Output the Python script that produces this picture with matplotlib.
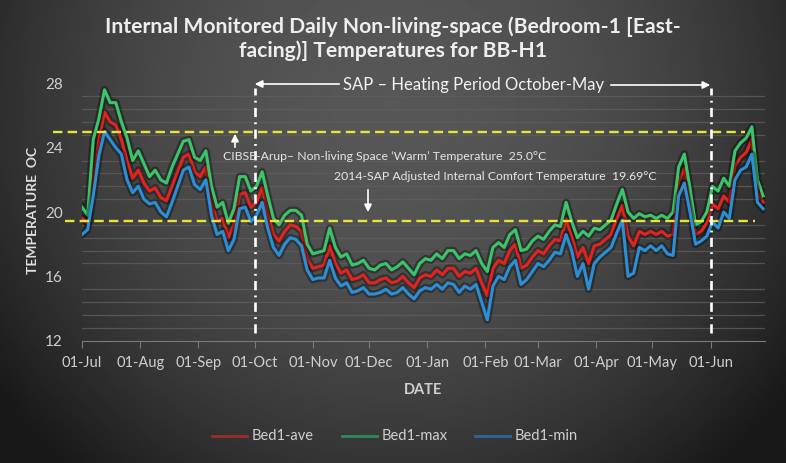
"""Bedroom-1 daily temperatures for BB-H1, dark Excel-style chart."""

import matplotlib
matplotlib.use("Agg")
import matplotlib.pyplot as plt
import matplotlib.dates as mdates
import matplotlib.patheffects as pe
import numpy as np
import pandas as pd

W, H = 786, 463
FONT = ["Lato", "DejaVu Sans"]
plt.rcParams["font.family"] = FONT

# Sample days counted from 01-Jul (every 3rd day).
START = pd.Timestamp("2014-07-01")
day_offsets = list(range(0, 364, 3))

bed1_max = [
    20.3, 19.8, 24.5, 25.8, 27.6, 26.8, 26.8, 25.6, 24.6, 23.2,
    23.8, 23.0, 22.2, 22.6, 22.0, 21.8, 22.8, 23.6, 24.4, 24.5,
    23.4, 23.2, 23.8, 21.6, 20.3, 20.6, 19.3, 20.2, 22.2, 22.2,
    21.3, 21.6, 22.5, 21.0, 19.6, 19.2, 19.8, 20.1, 20.1, 19.8,
    18.0, 17.4, 17.5, 17.6, 19.0, 17.8, 17.2, 17.4, 16.7, 16.8,
    17.0, 16.5, 16.4, 16.7, 16.8, 16.4, 16.6, 16.9, 16.5, 16.1,
    16.8, 17.1, 17.0, 17.4, 17.1, 17.6, 17.6, 17.1, 17.4, 17.3,
    17.6, 16.8, 16.3, 17.8, 18.1, 17.8, 18.6, 18.9, 17.6, 17.7,
    18.2, 18.5, 18.3, 18.8, 19.2, 19.1, 20.6, 19.4, 18.4, 18.8,
    18.5, 19.0, 18.9, 19.2, 19.5, 20.5, 21.4, 20.0, 19.6, 19.9,
    19.7, 19.8, 19.6, 19.8, 19.6, 20.0, 22.8, 23.6, 21.5, 19.2,
    19.4, 20.0, 21.6, 21.3, 22.1, 21.6, 23.8, 24.3, 24.6, 25.3,
    22.0, 21.0,
]
bed1_ave = [
    19.6, 19.3, 22.0, 24.5, 26.2, 25.6, 25.4, 24.5, 23.2, 22.1,
    22.6, 21.8, 21.3, 21.5, 20.9, 20.7, 21.6, 22.5, 23.4, 23.6,
    22.5, 22.2, 22.8, 20.6, 19.4, 19.6, 18.4, 19.2, 21.1, 21.2,
    20.3, 20.6, 21.5, 19.9, 18.6, 18.2, 18.8, 19.2, 19.1, 18.8,
    17.1, 16.5, 16.6, 16.7, 17.9, 16.8, 16.2, 16.4, 15.8, 15.9,
    16.1, 15.6, 15.6, 15.8, 15.9, 15.6, 15.7, 16.0, 15.6, 15.3,
    15.9, 16.1, 16.0, 16.4, 16.1, 16.5, 16.5, 16.0, 16.3, 16.2,
    16.5, 15.6, 14.8, 16.5, 17.0, 16.8, 17.6, 18.0, 16.5, 16.7,
    17.2, 17.6, 17.4, 17.9, 18.3, 18.2, 19.6, 18.5, 17.2, 17.8,
    16.8, 17.9, 18.0, 18.3, 18.6, 19.6, 20.4, 18.5, 17.9, 18.8,
    18.6, 18.8, 18.6, 18.8, 18.5, 18.6, 21.9, 22.7, 20.8, 18.6,
    18.8, 19.3, 20.5, 20.2, 21.0, 20.6, 22.9, 23.4, 23.7, 24.5,
    21.3, 20.6,
]
bed1_min = [
    18.6, 18.9, 21.0, 23.5, 25.0, 24.5, 24.0, 23.6, 22.0, 21.2,
    21.6, 20.8, 20.5, 20.6, 20.0, 19.7, 20.6, 21.6, 22.6, 22.8,
    21.7, 21.4, 22.0, 19.8, 18.6, 18.8, 17.6, 18.3, 20.2, 20.3,
    19.4, 19.8, 20.6, 19.0, 17.8, 17.3, 18.0, 18.4, 18.3, 17.9,
    16.4, 15.8, 15.9, 15.9, 17.0, 15.9, 15.4, 15.6, 15.0, 15.1,
    15.3, 14.9, 14.9, 15.0, 15.2, 14.9, 15.0, 15.3, 14.9, 14.6,
    15.1, 15.3, 15.2, 15.5, 15.2, 15.6, 15.5, 15.0, 15.4, 15.2,
    15.5, 14.4, 13.3, 15.4, 16.0, 15.8, 16.6, 17.0, 15.5, 15.8,
    16.3, 16.8, 16.6, 17.0, 17.5, 17.4, 18.6, 17.6, 16.0, 16.8,
    15.2, 16.8, 17.2, 17.5, 17.8, 18.7, 19.5, 16.0, 16.2, 17.8,
    17.6, 17.9, 17.6, 17.9, 17.4, 17.3, 21.0, 21.8, 20.0, 18.0,
    18.2, 18.5, 19.4, 19.0, 20.0, 19.6, 22.0, 22.6, 22.8, 23.6,
    20.6, 20.2,
]

series_names = ["Bed1-ave", "Bed1-max", "Bed1-min"]
series_colors = ["#e3231f", "#3bc46a", "#2b8fd8"]
legend_colors = ["#9b2c2c", "#2f8a5a", "#2f6699"]

CIBSE_WARM = 25.0      # line drawn at 25.0
SAP_LINE = 19.45       # drawn position (label says 19.69)
HEATING_START = pd.Timestamp("2014-10-01")
HEATING_END = pd.Timestamp("2015-06-01")


def fx(x):
    return x / W


def fy(y):
    return 1 - y / H


dates = [START + pd.Timedelta(days=d) for d in day_offsets]
df = pd.DataFrame({"date": dates, "Bed1-ave": bed1_ave,
                   "Bed1-max": bed1_max, "Bed1-min": bed1_min})

fig = plt.figure(figsize=(W / 100, H / 100), dpi=100)

# Background: radial dark-grey gradient.
bg = fig.add_axes([0, 0, 1, 1], zorder=-10)
gx, gy = np.meshgrid(np.linspace(0, 1, 400), np.linspace(0, 1, 240))
dist = ((gx - 0.5) / 0.62) ** 2 + ((gy - 0.22) / 1.05) ** 2
shade = np.clip(0.34 - 0.24 * dist, 0.1, 0.34)
bg.imshow(shade, cmap="gray", vmin=0, vmax=1, aspect="auto", extent=[0, 1, 0, 1])
bg.set_axis_off()

ax = fig.add_axes([fx(82), fy(340.7), fx(765) - fx(82), fy(83.3) - fy(340.7)])
ax.set_facecolor("none")

glow = [pe.Stroke(linewidth=5.5, foreground="black", alpha=0.35), pe.Normal()]
for name, col in zip(series_names, series_colors):
    ax.plot(df["date"], df[name], color=col, lw=2.2, path_effects=glow,
            solid_joinstyle="round", zorder=3)

ax.set_xlim(START, pd.Timestamp("2015-06-30"))
ax.set_ylim(12, 28)

ax.set_yticks([12, 16, 20, 24, 28])
ax.set_yticks(np.arange(12, 28.01, 0.8), minor=True)
ax.grid(which="minor", axis="y", color="#5e5e5e", lw=0.9, alpha=0.8)
ax.tick_params(axis="y", which="both", length=0, labelsize=11,
               labelcolor="#d0d0d0", pad=14)

ax.xaxis.set_major_locator(mdates.MonthLocator())
ax.xaxis.set_major_formatter(mdates.DateFormatter("%d-%b"))
ax.tick_params(axis="x", length=5, color="#7a7a7a", labelsize=10.5,
               labelcolor="#d0d0d0", pad=6)

for side in ("top", "right", "left"):
    ax.spines[side].set_visible(False)
ax.spines["bottom"].set_color("#7a7a7a")

# Threshold lines, running a little past the plot on the left.
yax = ax.get_yaxis_transform()
ax.plot([(53 - 82) / 683, (745 - 82) / 683], [CIBSE_WARM] * 2, transform=yax,
        color="#ece23a", lw=1.7, ls=(0, (4, 2.2)), clip_on=False, zorder=4)
ax.plot([(65 - 82) / 683, (755 - 82) / 683], [SAP_LINE] * 2, transform=yax,
        color="#ece23a", lw=1.7, ls=(0, (4, 2.2)), clip_on=False, zorder=4)

# Heating-period markers.
for d in (HEATING_START, HEATING_END):
    ax.plot([d, d], [12.5, 27.7], color="white", lw=1.9,
            ls=(0, (3.5, 2, 0.7, 2)), zorder=5)

ax.set_xlabel("DATE", fontsize=10.5, fontweight="bold", color="#d0d0d0")
ax.xaxis.set_label_coords(0.5, -0.165)
fig.text(fx(33), fy(210), "TEMPERATURE  OC", rotation=90, ha="center",
         va="center", fontsize=10, fontweight="bold", color="#e0e0e0")

fig.text(0.5, fy(39), "Internal Monitored Daily Non-living-space (Bedroom-1 [East-\n"
         "facing)] Temperatures for BB-H1", ha="center", va="center",
         fontsize=15.2, fontweight="bold", color="#eeeeee", linespacing=1.22)

# Annotations.
arrow_kw = dict(arrowstyle="-|>", color="white", lw=1.2, mutation_scale=11)
fig.text(fx(343), fy(85), "SAP \u2013 Heating Period October-May", ha="left",
         va="center", fontsize=12, color="#f2f2f2")
ax.annotate("", xy=(fx(252), fy(84)), xytext=(fx(342), fy(84)),
            xycoords="figure fraction", textcoords="figure fraction",
            arrowprops=arrow_kw)
ax.annotate("", xy=(fx(713), fy(85)), xytext=(fx(608), fy(85)),
            xycoords="figure fraction", textcoords="figure fraction",
            arrowprops=arrow_kw)

fig.text(fx(223), fy(156),
         "CIBSE-Arup\u2013 Non-living Space \u2018Warm\u2019 Temperature  25.0\u00b0C",
         ha="left", va="center", fontsize=8.8, color="#e6e6e6")
ax.annotate("", xy=(fx(235), fy(131)), xytext=(fx(235), fy(150)),
            xycoords="figure fraction", textcoords="figure fraction",
            arrowprops=arrow_kw)

fig.text(fx(334), fy(177),
         "2014-SAP Adjusted Internal Comfort Temperature  19.69\u00b0C",
         ha="left", va="center", fontsize=8.8, color="#e6e6e6")
ax.annotate("", xy=(fx(368), fy(215)), xytext=(fx(368), fy(187)),
            xycoords="figure fraction", textcoords="figure fraction",
            arrowprops=arrow_kw)

# Legend, laid out by hand along the bottom.
legend_x = [(212, 247, 252), (342, 377, 382), (475, 510, 515)]
for (x0, x1, xt), name, col in zip(legend_x, series_names, legend_colors):
    fig.add_artist(plt.Line2D([fx(x0), fx(x1)], [fy(436), fy(436)], color=col,
                              lw=2, transform=fig.transFigure))
    fig.text(fx(xt), fy(436), name, ha="left", va="center", fontsize=10.5,
             color="#d0d0d0")

fig.savefig("out.png", dpi=100)
